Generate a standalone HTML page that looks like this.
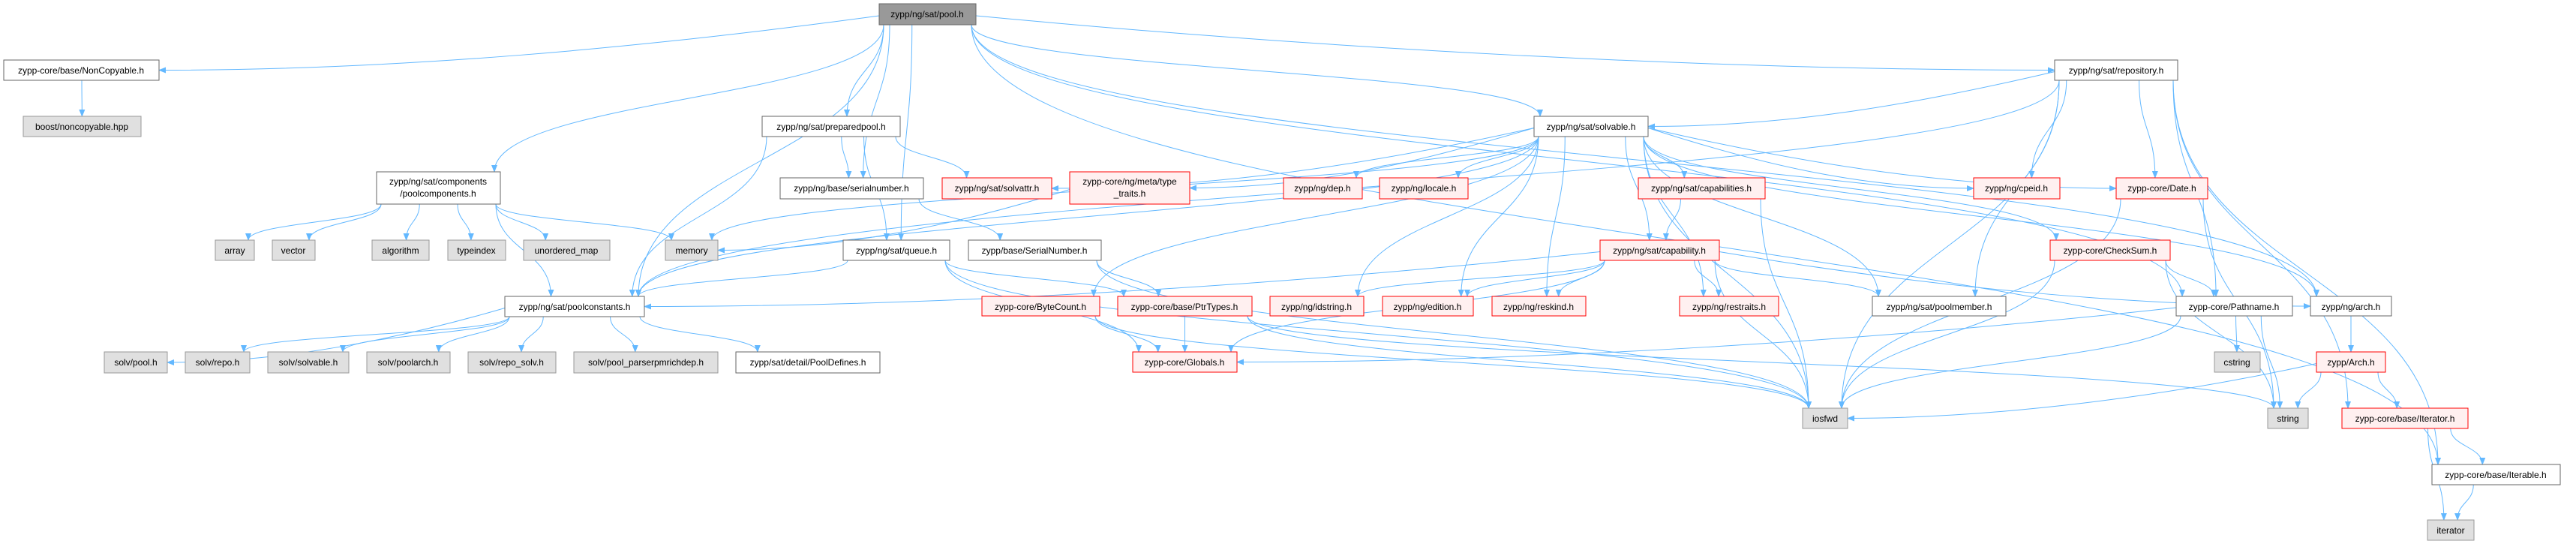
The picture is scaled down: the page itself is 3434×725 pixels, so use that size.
<!DOCTYPE html>
<html><head><meta charset="utf-8"><style>
html,body{margin:0;padding:0;background:#fff;width:3434px;height:725px;overflow:hidden}
svg text{font-family:"Liberation Sans",Arial,sans-serif;font-size:12px;fill:#000;text-anchor:middle}
.w{fill:#fff;stroke:#666;stroke-width:1}
.g{fill:#e0e0e0;stroke:#999;stroke-width:1}
.r{fill:#fff0f0;stroke:#f00;stroke-width:1}
.p{fill:#999;stroke:#666;stroke-width:1}
</style></head><body>
<svg id="s" width="3434" height="725" viewBox="0 0 3434 725" xmlns="http://www.w3.org/2000/svg">
<defs><marker id="a" markerWidth="10" markerHeight="8" refX="9" refY="4" orient="auto" markerUnits="userSpaceOnUse"><path d="M0,0 L10,4 L0,8 z" fill="#63b8ff"/></marker></defs>
<g id="edges"></g>
<g id="nodes">
<rect class="p" x="1172" y="5" width="129" height="28"/><text x="1236" y="23">zypp/ng/sat/pool.h</text>
<rect class="w" x="5" y="80" width="207" height="27"/><text x="108" y="98">zypp-core/base/NonCopyable.h</text>
<rect class="g" x="31" y="155" width="157" height="27"/><text x="109" y="173">boost/noncopyable.hpp</text>
<rect class="w" x="502" y="229" width="165" height="43"/><text x="584" y="246">zypp/ng/sat/components</text><text x="584" y="262">/poolcomponents.h</text>
<rect class="w" x="1016" y="155" width="184" height="27"/><text x="1108" y="173">zypp/ng/sat/preparedpool.h</text>
<rect class="w" x="1040" y="237" width="191" height="28"/><text x="1135" y="255">zypp/ng/base/serialnumber.h</text>
<rect class="r" x="1256" y="237" width="146" height="28"/><text x="1329" y="255">zypp/ng/sat/solvattr.h</text>
<rect class="g" x="287" y="320" width="52" height="27"/><text x="313" y="338">array</text>
<rect class="g" x="363" y="320" width="57" height="27"/><text x="391" y="338">vector</text>
<rect class="g" x="496" y="320" width="76" height="27"/><text x="534" y="338">algorithm</text>
<rect class="g" x="597" y="320" width="77" height="27"/><text x="635" y="338">typeindex</text>
<rect class="g" x="698" y="320" width="115" height="27"/><text x="755" y="338">unordered_map</text>
<rect class="g" x="887" y="320" width="70" height="27"/><text x="922" y="338">memory</text>
<rect class="w" x="1124" y="320" width="142" height="27"/><text x="1195" y="338">zypp/ng/sat/queue.h</text>
<rect class="w" x="1291" y="320" width="177" height="27"/><text x="1379" y="338">zypp/base/SerialNumber.h</text>
<rect class="w" x="673" y="395" width="186" height="27"/><text x="766" y="413">zypp/ng/sat/poolconstants.h</text>
<rect class="g" x="139" y="469" width="84" height="28"/><text x="181" y="487">solv/pool.h</text>
<rect class="g" x="247" y="469" width="86" height="28"/><text x="290" y="487">solv/repo.h</text>
<rect class="g" x="357" y="469" width="108" height="28"/><text x="411" y="487">solv/solvable.h</text>
<rect class="g" x="489" y="469" width="111" height="28"/><text x="544" y="487">solv/poolarch.h</text>
<rect class="g" x="624" y="469" width="117" height="28"/><text x="682" y="487">solv/repo_solv.h</text>
<rect class="g" x="765" y="469" width="192" height="28"/><text x="861" y="487">solv/pool_parserpmrichdep.h</text>
<rect class="w" x="981" y="469" width="192" height="28"/><text x="1077" y="487">zypp/sat/detail/PoolDefines.h</text>
<rect class="w" x="2045" y="155" width="152" height="27"/><text x="2121" y="173">zypp/ng/sat/solvable.h</text>
<rect class="r" x="1426" y="229" width="160" height="43"/><text x="1506" y="246">zypp-core/ng/meta/type</text><text x="1506" y="262">_traits.h</text>
<rect class="r" x="1711" y="237" width="105" height="28"/><text x="1763" y="255">zypp/ng/dep.h</text>
<rect class="r" x="1839" y="237" width="118" height="28"/><text x="1898" y="255">zypp/ng/locale.h</text>
<rect class="r" x="2184" y="237" width="169" height="28"/><text x="2268" y="255">zypp/ng/sat/capabilities.h</text>
<rect class="r" x="2133" y="320" width="159" height="27"/><text x="2212" y="338">zypp/ng/sat/capability.h</text>
<rect class="r" x="1309" y="395" width="157" height="26"/><text x="1387" y="413">zypp-core/ByteCount.h</text>
<rect class="r" x="1490" y="395" width="179" height="26"/><text x="1579" y="413">zypp-core/base/PtrTypes.h</text>
<rect class="r" x="1693" y="395" width="125" height="26"/><text x="1755" y="413">zypp/ng/idstring.h</text>
<rect class="r" x="1843" y="395" width="121" height="26"/><text x="1903" y="413">zypp/ng/edition.h</text>
<rect class="r" x="1989" y="395" width="125" height="26"/><text x="2051" y="413">zypp/ng/reskind.h</text>
<rect class="r" x="2239" y="395" width="132" height="26"/><text x="2305" y="413">zypp/ng/restraits.h</text>
<rect class="r" x="1510" y="469" width="139" height="27"/><text x="1579" y="487">zypp-core/Globals.h</text>
<rect class="w" x="2739" y="80" width="164" height="27"/><text x="2821" y="98">zypp/ng/sat/repository.h</text>
<rect class="r" x="2631" y="237" width="115" height="28"/><text x="2688" y="255">zypp/ng/cpeid.h</text>
<rect class="r" x="2821" y="237" width="122" height="28"/><text x="2882" y="255">zypp-core/Date.h</text>
<rect class="r" x="2733" y="320" width="160" height="27"/><text x="2813" y="338">zypp-core/CheckSum.h</text>
<rect class="w" x="2496" y="395" width="178" height="26"/><text x="2585" y="413">zypp/ng/sat/poolmember.h</text>
<rect class="w" x="2901" y="395" width="155" height="26"/><text x="2978" y="413">zypp-core/Pathname.h</text>
<rect class="w" x="3080" y="395" width="108" height="26"/><text x="3134" y="413">zypp/ng/arch.h</text>
<rect class="g" x="2952" y="469" width="61" height="27"/><text x="2982" y="487">cstring</text>
<rect class="r" x="3088" y="469" width="92" height="27"/><text x="3134" y="487">zypp/Arch.h</text>
<rect class="g" x="2403" y="544" width="60" height="27"/><text x="2433" y="562">iosfwd</text>
<rect class="g" x="3023" y="544" width="54" height="27"/><text x="3050" y="562">string</text>
<rect class="r" x="3122" y="544" width="168" height="27"/><text x="3206" y="562">zypp-core/base/Iterator.h</text>
<rect class="w" x="3242" y="619" width="171" height="27"/><text x="3327" y="637">zypp-core/base/Iterable.h</text>
<rect class="g" x="3236" y="693" width="62" height="27"/><text x="3267" y="711">iterator</text>
</g>
</svg>
<script>
var N={pool:[1172,5,1301,33],nc:[5,80,212,107],boost:[31,155,188,182],comp:[502,229,667,272],prep:[1016,155,1200,182],ser:[1040,237,1231,265],solvattr:[1256,237,1402,265],array:[287,320,339,347],vector:[363,320,420,347],algorithm:[496,320,572,347],typeindex:[597,320,674,347],umap:[698,320,813,347],memory:[887,320,957,347],queue:[1124,320,1266,347],SerNum:[1291,320,1468,347],pc:[673,395,859,422],spool:[139,469,223,497],srepo:[247,469,333,497],ssolv:[357,469,465,497],sarch:[489,469,600,497],srs:[624,469,741,497],srich:[765,469,957,497],pdef:[981,469,1173,497],solvable:[2045,155,2197,182],tt:[1426,229,1586,272],dep:[1711,237,1816,265],locale:[1839,237,1957,265],caps:[2184,237,2353,265],cap:[2133,320,2292,347],bc:[1309,395,1466,421],ptr:[1490,395,1669,421],ids:[1693,395,1818,421],ed:[1843,395,1964,421],rk:[1989,395,2114,421],rt:[2239,395,2371,421],glob:[1510,469,1649,496],repo:[2739,80,2903,107],cpe:[2631,237,2746,265],date:[2821,237,2943,265],cks:[2733,320,2893,347],pm:[2496,395,2674,421],path:[2901,395,3056,421],arch:[3080,395,3188,421],cstr:[2952,469,3013,496],Arch:[3088,469,3180,496],iosfwd:[2403,544,2463,571],str:[3023,544,3077,571],itr:[3122,544,3290,571],itb:[3242,619,3413,646],iter:[3236,693,3298,720]};
var E={pool:"nc comp pc prep ser queue solvable repo path arch itb",nc:"boost",comp:"array vector algorithm typeindex umap memory pc",prep:"ser solvattr queue pc",ser:"SerNum",SerNum:"ptr iosfwd",queue:"pc ptr glob iosfwd",solvable:"solvattr tt dep locale caps cap ids ed rk rt cpe date cks pm arch iosfwd bc pc memory",tt:"memory",caps:"cap iosfwd",cap:"pc ids ed rk rt pm glob iosfwd arch",repo:"solvable pc cpe date path iosfwd itr itb pm",date:"iosfwd str",cks:"path iosfwd str",bc:"glob iosfwd",ptr:"glob iosfwd str",path:"cstr str iosfwd glob",arch:"Arch",Arch:"str itr iosfwd",itr:"itb iter",itb:"iter",pc:"spool srepo ssolv sarch srs srich pdef"};
var g=document.getElementById("edges"),h="";
for(var s in E){var S=N[s];E[s].split(" ").forEach(function(t){var T=N[t];
var scx=(S[0]+S[2])/2,tcx=(T[0]+T[2])/2,hw=(S[2]-S[0])/2-6;
var off=Math.max(-hw,Math.min(hw,(tcx-scx)*0.5));
var x1=scx+off,y1=S[3],x2,y2,d;
var dy=T[1]-S[3],dx=tcx-x1;
if(dy<60&&Math.abs(dx)>400){
 x2=dx>0?T[0]:T[2];y2=(T[1]+T[3])/2;
 x1=dx>0?S[2]:S[0];y1=(S[1]+S[3])/2+2;
 d="M"+x1+","+y1+" C"+(x1+dx*0.3)+","+(y1+(y2-y1)*0.6)+" "+(x2-dx*0.3)+","+y2+" "+x2+","+y2;
}else{
 var tw=(T[2]-T[0])/2-8;
 x2=tcx+Math.max(-tw,Math.min(tw,(x1-tcx)*0.3));y2=T[1];
 var c=Math.max(20,dy*0.5);
 d="M"+x1+","+y1+" C"+x1+","+(y1+c)+" "+x2+","+(y2-c)+" "+x2+","+y2;
}
h+='<path d="'+d+'" fill="none" stroke="#63b8ff" stroke-width="1" marker-end="url(#a)"/>';});}
g.innerHTML=h;
</script>
</body></html>
